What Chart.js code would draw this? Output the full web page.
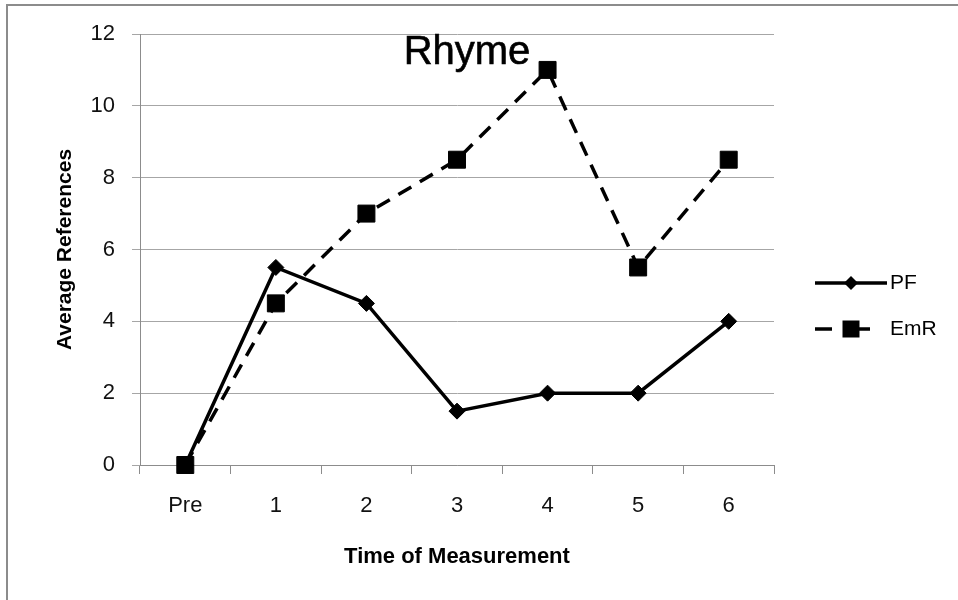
<!DOCTYPE html>
<html>
<head>
<meta charset="utf-8">
<script src="https://cdn.jsdelivr.net/npm/chart.js@4.4.0/dist/chart.umd.min.js"></script>
<style>
  html, body { margin: 0; padding: 0; background: #fff; }
  #wrap { position: relative; width: 958px; height: 600px; overflow: hidden; }
  #frame { position: absolute; left: 6px; top: 4px; width: 1000px; height: 700px;
           border-left: 2px solid #8c8c8c; border-top: 2px solid #8c8c8c; }
  #rhymeChart { position: absolute; left: 0; top: 0; }
  #chartTitle { position: absolute; left: 367px; top: 30px; width: 200px; text-align: center;
                font: 40px/40px "Liberation Sans", Arial, sans-serif; color: #000;
                -webkit-text-stroke: 0.6px #000; }
</style>
</head>
<body>
<div id="wrap">
  <div id="frame"></div>
  <canvas id="rhymeChart" width="958" height="600"></canvas>
  <div id="chartTitle">Rhyme</div>
</div>
<script>
// data
var categories = ["Pre", "1", "2", "3", "4", "5", "6"];
var pfValues = [0, 5.5, 4.5, 1.5, 2, 2, 4];
var emrValues = [0, 4.5, 7, 8.5, 11, 5.5, 8.5];
var yTicks = [0, 2, 4, 6, 8, 10, 12];

var sans = "'Liberation Sans', Arial, sans-serif";
Chart.defaults.color = "#000";

// legend on the right: line + marker, like the spreadsheet one
var sideLegend = {
  id: "sideLegend",
  afterDraw: function(chart, args, opts) {
    var ctx = chart.ctx;
    var area = chart.chartArea;
    chart.data.datasets.forEach(function(ds, i) {
      var y = area.top + opts.firstY + i * opts.gap;
      var x0 = area.right + opts.lineStart;
      var cx = x0 + opts.markerAt;
      ctx.save();
      ctx.strokeStyle = ds.borderColor;
      ctx.lineWidth = ds.borderWidth;
      ctx.setLineDash(ds.borderDash ? [17, 11, 27, 100] : []);
      ctx.beginPath();
      ctx.moveTo(x0, y);
      ctx.lineTo(x0 + opts.lineLength, y);
      ctx.stroke();
      ctx.setLineDash([]);
      ctx.fillStyle = ds.pointBackgroundColor;
      ctx.beginPath();
      if (ds.pointStyle === "rect") {
        ctx.rect(cx - 8.5, y - 8.5, 17, 17);
      } else {
        ctx.moveTo(cx, y - 7); ctx.lineTo(cx + 7, y); ctx.lineTo(cx, y + 7); ctx.lineTo(cx - 7, y);
        ctx.closePath();
      }
      ctx.fill();
      ctx.font = opts.font;
      ctx.fillStyle = "#000";
      ctx.textAlign = "left";
      ctx.textBaseline = "middle";
      ctx.fillText(ds.label, area.right + opts.textAt, y);
      ctx.restore();
    });
  }
};

var ctx = document.getElementById("rhymeChart").getContext("2d");

new Chart(ctx, {
  type: "line",
  data: {
    labels: categories,
    datasets: [{
      label: "PF",
      data: pfValues,
      borderColor: "#000",
      borderWidth: 3.5,
      pointStyle: "rectRot",
      pointRadius: 8,
      pointBackgroundColor: "#000",
      pointBorderColor: "#000",
      pointBorderWidth: 1,
      tension: 0,
      fill: false,
      clip: false,
      order: 2
    }, {
      label: "EmR",
      data: emrValues,
      borderColor: "#000",
      borderWidth: 3.5,
      borderDash: [15, 10],
      pointStyle: "rect",
      pointRadius: 12,
      pointBackgroundColor: "#000",
      pointBorderColor: "#000",
      pointBorderWidth: 1,
      tension: 0,
      fill: false,
      clip: false,
      order: 1
    }]
  },
  options: {
    responsive: false,
    animation: false,
    layout: { padding: { top: 34, bottom: 22, left: 40, right: 184 } },
    scales: {
      x: {
        offset: true,
        afterFit: function(scale) { scale.height = 113; },
        grid: { offset: true, drawOnChartArea: false, drawTicks: true, tickLength: 9, color: "#8c8c8c" },
        border: { display: true, color: "#8c8c8c", width: 1 },
        ticks: { padding: 19, color: "#111", font: { family: sans, size: 22 } },
        title: {
          display: true,
          text: "Time of Measurement",
          color: "#000",
          padding: { top: 0, bottom: 8 },
          font: { family: sans, size: 22, weight: "bold" }
        }
      },
      y: {
        min: 0,
        max: 12,
        afterFit: function(scale) { scale.width = 100; },
        afterBuildTicks: function(scale) {
          scale.ticks = yTicks.map(function(v) { return { value: v }; });
        },
        grid: { color: "#a6a6a6", lineWidth: 1, drawTicks: true, tickLength: 8 },
        border: { display: true, color: "#8c8c8c", width: 1 },
        ticks: { padding: 17, color: "#111", font: { family: sans, size: 22 } },
        title: {
          display: true,
          text: "Average References",
          color: "#000",
          padding: { top: 13, bottom: 0 },
          font: { family: sans, size: 21, weight: "bold" }
        }
      }
    },
    plugins: {
      legend: { display: false },
      tooltip: { enabled: false },
      sideLegend: {
        firstY: 249,
        gap: 46,
        lineStart: 41,
        lineLength: 72,
        markerAt: 36,
        textAt: 116,
        font: "21px " + sans
      }
    }
  },
  plugins: [sideLegend]
});
</script>
</body>
</html>
